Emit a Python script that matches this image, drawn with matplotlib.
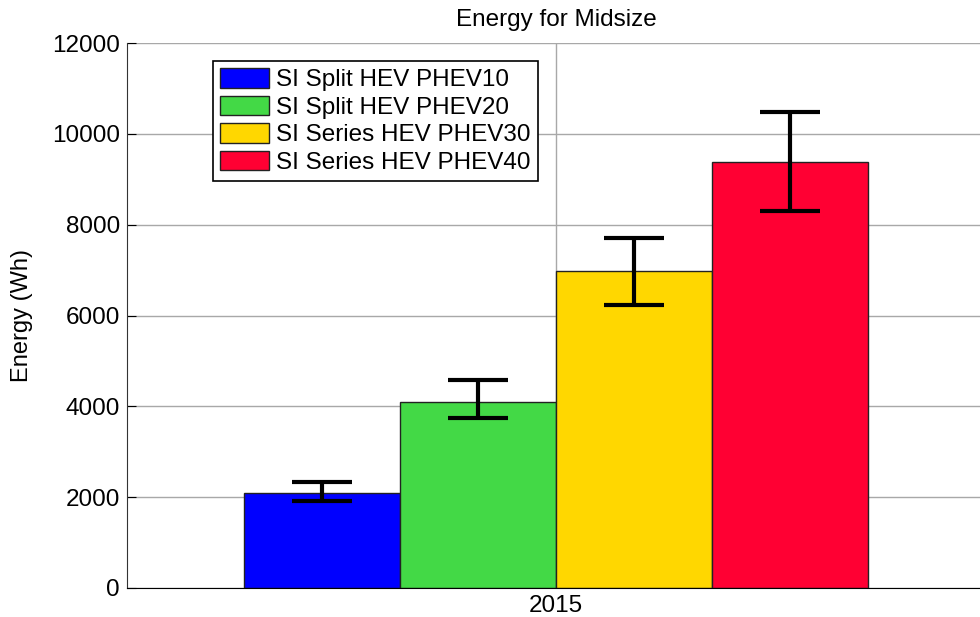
import numpy as np
import matplotlib
matplotlib.use('Agg')
import matplotlib.pyplot as plt

plt.rcParams['font.family'] = ['Liberation Sans', 'DejaVu Sans']

# data
years = [2015]
series = ['SI Split HEV PHEV10', 'SI Split HEV PHEV20',
          'SI Series HEV PHEV30', 'SI Series HEV PHEV40']
energy = [2085, 4100, 6980, 9385]
err_low = [1915, 3750, 6230, 8305]
err_high = [2335, 4575, 7700, 10475]
colors = ['#0000ff', '#43d946', '#ffd700', '#ff0033']

fig = plt.figure(figsize=(9.8, 6.17), dpi=100)
ax = fig.add_axes([127/980, 29/617, 858/980, 545/617])

n = len(series)
w = 0.2
offs = (np.arange(n) - (n - 1) / 2) * w
for k in range(n):
    x = years[0] + offs[k]
    ax.bar(x, energy[k], width=w, color=colors[k], edgecolor='#222222',
           linewidth=1, label=series[k], zorder=2)
    lo = energy[k] - err_low[k]
    hi = err_high[k] - energy[k]
    ax.errorbar(x, energy[k], yerr=[[lo], [hi]], fmt='none', ecolor='black',
                elinewidth=3, capsize=21.6, capthick=3, zorder=3)

ax.set_xlim(years[0] - 0.55, years[0] + 0.55)
ax.set_ylim(0, 12000)
ax.set_xticks(years)
ax.set_xticklabels([str(y) for y in years])
ax.set_yticks(np.arange(0, 12001, 2000))

ax.grid(True, color='#a8a8a8', linewidth=1, zorder=0)
ax.set_axisbelow(True)
for s in ['top', 'right']:
    ax.spines[s].set_visible(False)
ax.spines['left'].set_color('#333333')
ax.spines['bottom'].set_color('black')
ax.tick_params(direction='in', length=6.5, labelsize=17.5, pad=5, colors='black')

ax.set_ylabel('Energy (Wh)', fontsize=17, labelpad=14)
ax.set_title('Energy for Midsize', fontsize=17.5, pad=12)

leg = ax.legend(loc='upper left', bbox_to_anchor=((213-127)/858, (588-61)/545),
                borderaxespad=0, fontsize=17.5, fancybox=False, framealpha=1,
                edgecolor='black', handlelength=2.0, handleheight=0.85,
                handletextpad=0.3, labelspacing=0.18, borderpad=0.3)
leg.get_frame().set_linewidth(1.2)

fig.savefig('out.png', dpi=100)
